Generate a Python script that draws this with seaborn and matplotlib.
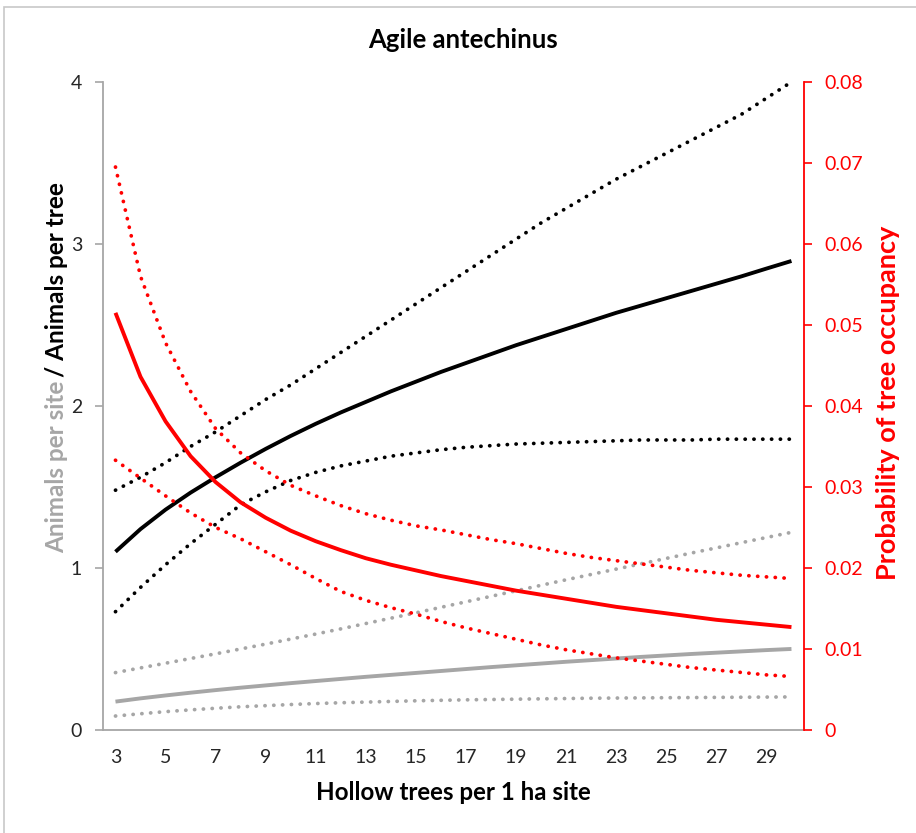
import matplotlib
matplotlib.use("Agg")
import matplotlib.pyplot as plt
import seaborn as sns
from matplotlib.patches import Rectangle

# hollow trees per site
trees = list(range(3, 31))

# animals per tree (black, left axis)
per_tree = [1.10, 1.24, 1.36, 1.465, 1.56, 1.65, 1.735, 1.815, 1.89, 1.96, 2.025, 2.09, 2.15, 2.21,
            2.265, 2.32, 2.375, 2.425, 2.475, 2.525, 2.575, 2.62, 2.665, 2.71, 2.755, 2.80, 2.848, 2.895]
per_tree_hi = [1.48, 1.56, 1.65, 1.75, 1.84, 1.94, 2.04, 2.13, 2.23, 2.33, 2.43, 2.53, 2.63, 2.73,
               2.83, 2.93, 3.03, 3.13, 3.22, 3.31, 3.40, 3.48, 3.56, 3.64, 3.72, 3.80, 3.90, 4.00]
per_tree_lo = [0.73, 0.88, 1.02, 1.15, 1.27, 1.39, 1.47, 1.54, 1.59, 1.63, 1.66, 1.69, 1.71, 1.73,
               1.745, 1.755, 1.765, 1.77, 1.775, 1.78, 1.785, 1.79, 1.79, 1.79, 1.795, 1.795, 1.795, 1.795]

# animals per site (grey, left axis)
per_site = [0.175, 0.195, 0.213, 0.230, 0.246, 0.261, 0.275, 0.289, 0.302, 0.315, 0.328, 0.340, 0.352, 0.364,
            0.376, 0.388, 0.399, 0.410, 0.421, 0.431, 0.441, 0.451, 0.460, 0.469, 0.477, 0.485, 0.493, 0.500]
per_site_hi = [0.354, 0.383, 0.412, 0.441, 0.470, 0.500, 0.530, 0.561, 0.592, 0.624, 0.657, 0.690, 0.723, 0.757,
               0.791, 0.825, 0.859, 0.893, 0.927, 0.960, 0.993, 1.026, 1.059, 1.092, 1.124, 1.156, 1.188, 1.220]
per_site_lo = [0.086, 0.100, 0.113, 0.124, 0.134, 0.143, 0.150, 0.157, 0.163, 0.168, 0.172, 0.176, 0.180, 0.183,
               0.186, 0.188, 0.190, 0.192, 0.194, 0.196, 0.197, 0.198, 0.199, 0.200, 0.201, 0.202, 0.203, 0.204]

# probability of tree occupancy (red, right axis)
occ = [0.0515, 0.0436, 0.0381, 0.0338, 0.0306, 0.0281, 0.0262, 0.0246, 0.0233, 0.0222, 0.0212, 0.0204, 0.0197, 0.0190,
       0.0184, 0.0178, 0.0172, 0.0167, 0.0162, 0.0157, 0.0152, 0.0148, 0.0144, 0.0140, 0.0136, 0.0133, 0.0130, 0.0127]
occ_hi = [0.0695, 0.0560, 0.0478, 0.0418, 0.0372, 0.0342, 0.0320, 0.0302, 0.0289, 0.0277, 0.0267, 0.0259, 0.0252, 0.0247,
          0.0241, 0.0235, 0.0230, 0.0224, 0.0218, 0.0213, 0.0209, 0.0205, 0.0201, 0.0197, 0.0194, 0.0191, 0.0189, 0.0187]
occ_lo = [0.0333, 0.0311, 0.0289, 0.0268, 0.0250, 0.0236, 0.0220, 0.0204, 0.0187, 0.0171, 0.0160, 0.0151, 0.0143, 0.0134,
          0.0126, 0.0119, 0.0112, 0.0105, 0.0099, 0.0094, 0.0089, 0.0085, 0.0081, 0.0077, 0.0074, 0.0071, 0.0068, 0.0066]

sns.set_style("white")
plt.rcParams["font.family"] = ["Lato", "DejaVu Sans"]

RED = "#ff0000"
GREY = "#a6a6a6"
AXG = "#a6a6a6"
TXT = "#262626"

fig = plt.figure(figsize=(9.16, 8.33), dpi=100)
fig.add_artist(Rectangle((0.0044, -0.1), 1.2, 1.0916, transform=fig.transFigure,
                         fill=False, edgecolor="#c8c8c8", linewidth=1.2))
ax = fig.add_axes([0.1124, 0.1237, 0.7653, 0.7779])
ax2 = ax.twinx()

solid = dict(linewidth=2.8, solid_capstyle="butt")
dotted = dict(linewidth=2.7, linestyle=(0, (0.05, 2.3)), dash_capstyle="round")

sns.lineplot(x=trees, y=per_site_hi, ax=ax, color=GREY, **dotted)
sns.lineplot(x=trees, y=per_site_lo, ax=ax, color=GREY, **dotted)
sns.lineplot(x=trees, y=per_site, ax=ax, color=GREY, **solid)
sns.lineplot(x=trees, y=per_tree_hi, ax=ax, color="black", **dotted)
sns.lineplot(x=trees, y=per_tree_lo, ax=ax, color="black", **dotted)
sns.lineplot(x=trees, y=per_tree, ax=ax, color="black", **solid)

sns.lineplot(x=trees, y=occ_hi, ax=ax2, color=RED, **dotted)
sns.lineplot(x=trees, y=occ_lo, ax=ax2, color=RED, **dotted)
sns.lineplot(x=trees, y=occ, ax=ax2, color=RED, **solid)

ax.set_xlim(2.5, 30.5)
ax.set_ylim(0, 4)
ax2.set_ylim(0, 0.08)

ax.set_xticks(list(range(3, 30, 2)))
ax.set_yticks([0, 1, 2, 3, 4])
ax.set_yticklabels(["0", "1", "2", "3", "4"])
ax2.set_yticks([i / 100 for i in range(9)])
ax2.set_yticklabels(["0"] + [f"0.0{i}" for i in range(1, 9)])

for a in (ax, ax2):
    a.spines["top"].set_visible(False)
    a.grid(False)
    a.set_xlabel("")
    a.set_ylabel("")
ax.spines["right"].set_visible(False)
ax2.spines["left"].set_visible(False)
ax2.spines["bottom"].set_visible(False)
ax.spines["left"].set_color(AXG)
ax.spines["bottom"].set_color(AXG)
ax2.spines["right"].set_color(RED)
for s in ("left", "bottom"):
    ax.spines[s].set_linewidth(1.3)
ax2.spines["right"].set_linewidth(1.3)

ax.tick_params(axis="y", left=True, length=6, width=1.2, color=AXG, pad=9,
               labelsize=14, labelcolor=TXT)
ax.tick_params(axis="x", bottom=False, pad=10, labelsize=14, labelcolor=TXT)
ax2.tick_params(axis="y", right=True, length=6, width=1.2, color=RED, pad=9,
                labelsize=14, labelcolor=RED)

fig.text(0.505, 0.952, "Agile antechinus", ha="center", va="center",
         fontsize=18.5, fontweight="bold", color="black")
ax.set_xlabel("Hollow trees per 1 ha site", fontsize=17.4, fontweight="bold",
              color="black", labelpad=11)
fig.text(0.969, 0.516, "Probability of tree occupancy", rotation=90, ha="center",
         va="center", fontsize=19.5, fontweight="bold", color=RED)

# two-colour left axis title
t1 = fig.text(0.062, 0.336, "Animals per site", rotation=90, rotation_mode="anchor",
              ha="left", va="center", fontsize=17.5, fontweight="bold", color=GREY)
fig.canvas.draw()
bb = t1.get_window_extent(renderer=fig.canvas.get_renderer())
y_top = bb.y1 / fig.bbox.height
fig.text(0.062, y_top + 0.005, "/ Animals per tree", rotation=90, rotation_mode="anchor",
         ha="left", va="center", fontsize=17.5, fontweight="bold", color="black")

fig.savefig("out.png", dpi=100)
